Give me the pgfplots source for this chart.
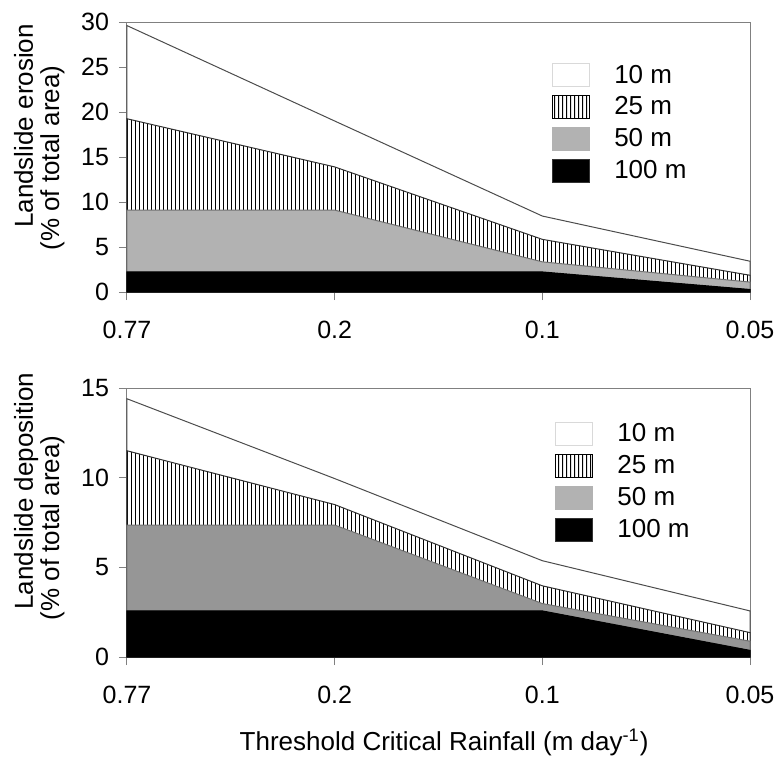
\documentclass[border=0pt]{standalone}
\usepackage{fontspec}
\setmainfont{Liberation Sans}
\usepackage{pgfplots}
\pgfplotsset{compat=1.18}
\usetikzlibrary{patterns}

\pgfdeclarepatternformonly{vlines}{\pgfpointorigin}{\pgfpoint{1.75pt}{10pt}}{\pgfpoint{1.75pt}{10pt}}{%
  \pgfsetlinewidth{0.5pt}%
  \pgfpathmoveto{\pgfpoint{0.875pt}{-0.5pt}}%
  \pgfpathlineto{\pgfpoint{0.875pt}{10.5pt}}%
  \pgfusepath{stroke}}

\definecolor{gLight}{gray}{0.70}
\definecolor{gDark}{gray}{0.59}
\definecolor{axgray}{gray}{0.5}

\pgfplotsset{
  myaxis/.style={
    scale only axis,
    clip=false,
    width=311.5pt,
    xmin=0, xmax=3,
    xtick={0,1,2,3},
    xticklabels={0.77,0.2,0.1,0.05},
    ymin=0,
    axis line style={axgray, line width=0.5pt},
    tick style={axgray, line width=0.5pt},
    tick align=outside,
    major tick length=4pt,
    tick pos=left,
    /pgf/number format/assume math mode=true,
    tick label style={font=\fontsize{12.5}{14}\selectfont, text=black},
    xticklabel style={anchor=base, yshift=-19pt},
    yticklabel style={xshift=-1.5pt},
    label style={font=\fontsize{13}{14}\selectfont},
    ylabel style={anchor=base, inner sep=0pt},
    legend style={draw=none, fill=none, font=\fontsize{13}{14}\selectfont,
      anchor=north west, inner sep=0pt, row sep=3.9pt,
      nodes={inner sep=0pt},
      /tikz/every odd column/.append style={column sep=12pt}},
    legend cell align=left,
    legend image code/.code={\draw[line width=0.5pt,#1] (0pt,-5.75pt) rectangle (18.5pt,5.75pt);},
  }
}

\begin{document}
\begin{tikzpicture}
\path[use as bounding box] (-63.5pt,146pt) rectangle (325pt,-232pt);

% ---------- top axis ----------
\begin{axis}[myaxis,
  height=135pt,
  ymax=30, ytick={0,5,...,30},
  ylabel={(\% of total area)},
  ylabel style={at={(axis description cs:-0.1091,0.496)}},
  legend style={at={(axis description cs:0.682,0.848)}},
]
\addplot[draw=black!70, line width=0.5pt, fill=white, forget plot]
  coordinates {(0,29.6) (1,19.0) (2,8.44) (3,3.42)} \closedcycle;
\addplot[draw=none, fill=white, forget plot]
  coordinates {(0,19.25) (1,13.9) (2,5.85) (3,1.86)} \closedcycle;
\addplot[draw=black!80, line width=0.5pt, pattern=vlines, forget plot]
  coordinates {(0,19.25) (1,13.9) (2,5.85) (3,1.86)} \closedcycle;
\addplot[draw=black!55, line width=0.5pt, fill=gLight, forget plot]
  coordinates {(0,9.1) (1,9.1) (2,3.35) (3,1.1)} \closedcycle;
\addplot[draw=black, line width=0.5pt, fill=black, forget plot]
  coordinates {(0,2.23) (1,2.23) (2,2.23) (3,0.28)} \closedcycle;
\addlegendimage{draw=black!15, fill=white}
\addlegendentry{10 m}
\addlegendimage{draw=none, pattern=vlines}
\addlegendentry{25 m}
\addlegendimage{draw=gLight, fill=gLight}
\addlegendentry{50 m}
\addlegendimage{draw=black!80, fill=black}
\addlegendentry{100 m}
\node[rotate=90, anchor=base, font=\fontsize{13}{14}\selectfont, inner sep=0pt]
  at (axis description cs:-0.1509,0.615) {Landslide erosion};
\end{axis}

% ---------- bottom axis ----------
\begin{axis}[myaxis,
  at={(0pt,-182.5pt)},
  height=134.5pt,
  ymax=15, ytick={0,5,10,15},
  ylabel={(\% of total area)},
  ylabel style={at={(axis description cs:-0.1091,0.48)}},
  xlabel={Threshold Critical Rainfall (m day\textsuperscript{-1})},
  xlabel style={at={(axis description cs:0.509,0)}, anchor=base, yshift=-46.5pt},
  legend style={at={(axis description cs:0.687,0.874)}},
]
\addplot[draw=black!70, line width=0.5pt, fill=white, forget plot]
  coordinates {(0,14.4) (1,9.95) (2,5.37) (3,2.57)} \closedcycle;
\addplot[draw=none, fill=white, forget plot]
  coordinates {(0,11.5) (1,8.5) (2,3.97) (3,1.36)} \closedcycle;
\addplot[draw=black!80, line width=0.5pt, pattern=vlines, forget plot]
  coordinates {(0,11.5) (1,8.5) (2,3.97) (3,1.36)} \closedcycle;
\addplot[draw=black!55, line width=0.5pt, fill=gDark, forget plot]
  coordinates {(0,7.36) (1,7.36) (2,2.98) (3,0.88)} \closedcycle;
\addplot[draw=black, line width=0.5pt, fill=black, forget plot]
  coordinates {(0,2.57) (1,2.57) (2,2.57) (3,0.37)} \closedcycle;
\addlegendimage{draw=black!15, fill=white}
\addlegendentry{10 m}
\addlegendimage{draw=none, pattern=vlines}
\addlegendentry{25 m}
\addlegendimage{draw=gLight, fill=gLight}
\addlegendentry{50 m}
\addlegendimage{draw=black!80, fill=black}
\addlegendentry{100 m}
\node[rotate=90, anchor=base, font=\fontsize{13}{14}\selectfont, inner sep=0pt]
  at (axis description cs:-0.1509,0.617) {Landslide deposition};
\end{axis}
\end{tikzpicture}
\end{document}
